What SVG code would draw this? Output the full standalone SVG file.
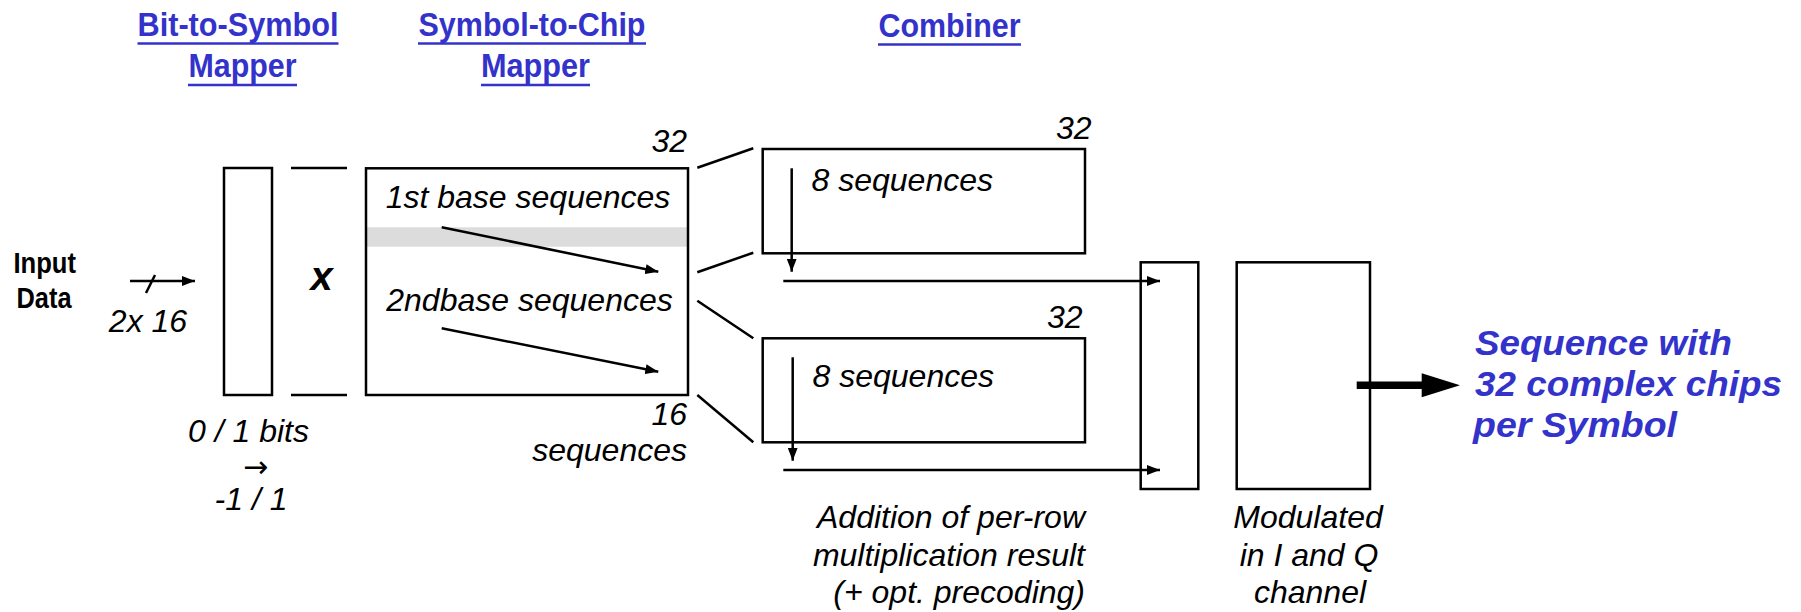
<svg xmlns="http://www.w3.org/2000/svg" width="1801" height="612" viewBox="0 0 1801 612">
<defs>
<style>
.box{fill:none;stroke:#000;stroke-width:2.5}
.ln{fill:none;stroke:#000;stroke-width:2.5}
.it{font-family:"Liberation Sans",Arial,sans-serif;font-style:italic;font-size:32px;fill:#000}
.hd{font-family:"Liberation Sans",Arial,sans-serif;font-weight:bold;font-size:34px;fill:#3333cc}
.ul{stroke:#3333cc;stroke-width:2.5}
.bd{font-family:"Liberation Sans",Arial,sans-serif;font-weight:bold;font-size:29px;fill:#000}
.out{font-family:"Liberation Sans",Arial,sans-serif;font-weight:bold;font-style:italic;font-size:35px;fill:#3333cc}
</style>
<marker id="ah" markerUnits="userSpaceOnUse" markerWidth="13" markerHeight="10" refX="13" refY="5" orient="auto">
<path d="M0,0 L13,5 L0,10 z" fill="#000"/>
</marker>
</defs>
<rect width="1801" height="612" fill="#fff"/>

<g id="headers">
<text class="hd" x="137.5" y="36" textLength="201" lengthAdjust="spacingAndGlyphs">Bit-to-Symbol</text>
<line class="ul" x1="137.5" y1="43.5" x2="338.5" y2="43.5"/>
<text class="hd" x="188.5" y="77" textLength="108" lengthAdjust="spacingAndGlyphs">Mapper</text>
<line class="ul" x1="188" y1="85" x2="297" y2="85"/>
<text class="hd" x="418.5" y="36" textLength="227" lengthAdjust="spacingAndGlyphs">Symbol-to-Chip</text>
<line class="ul" x1="418" y1="43.5" x2="646" y2="43.5"/>
<text class="hd" x="481" y="77" textLength="109" lengthAdjust="spacingAndGlyphs">Mapper</text>
<line class="ul" x1="481" y1="85" x2="590" y2="85"/>
<text class="hd" x="878.5" y="36.5" textLength="142" lengthAdjust="spacingAndGlyphs">Combiner</text>
<line class="ul" x1="878" y1="44.5" x2="1021" y2="44.5"/>
</g>

<g id="input">
<text class="bd" x="13.5" y="273" textLength="62.5" lengthAdjust="spacingAndGlyphs">Input</text>
<text class="bd" x="16.5" y="308" textLength="55" lengthAdjust="spacingAndGlyphs">Data</text>
<text class="it" x="148" y="332" text-anchor="middle">2x 16</text>
</g>

<g id="bit-mapper">
<rect class="box" x="224" y="168" width="48" height="227"/>
<text class="it" x="248.5" y="441.5" text-anchor="middle">0 / 1 bits</text>
<text x="255.5" y="477" text-anchor="middle" style="font-family:'DejaVu Sans',sans-serif;font-size:30px;fill:#000">→</text>
<text class="it" x="251" y="510" text-anchor="middle">-1 / 1</text>
</g>

<g id="multiply">
<line class="ln" x1="291" y1="168" x2="347" y2="168"/>
<line class="ln" x1="291" y1="395" x2="347" y2="395"/>
<text x="321.5" y="290" text-anchor="middle" style="font-family:'Liberation Sans',Arial,sans-serif;font-weight:bold;font-style:italic;font-size:40px;fill:#000">x</text>
</g>

<g id="chip-mapper">
<rect x="366" y="227.3" width="322" height="19.4" fill="#dcdcdc"/>
<rect class="box" x="366" y="168.3" width="322" height="226.7"/>
<text class="it" x="687" y="151.5" text-anchor="end">32</text>
<text class="it" x="528" y="208" text-anchor="middle">1st base sequences</text>
<text class="it" x="529.5" y="311" text-anchor="middle">2ndbase sequences</text>
<text class="it" x="687" y="425" text-anchor="end">16</text>
<text class="it" x="687" y="461" text-anchor="end">sequences</text>
</g>

<g id="combiner-top">
<rect class="box" x="762.7" y="149" width="322.3" height="104.3"/>
<text class="it" x="1091.5" y="139" text-anchor="end">32</text>
<text class="it" x="811.5" y="191">8 sequences</text>
</g>

<g id="combiner-bottom">
<rect class="box" x="762.7" y="338.3" width="322.3" height="104"/>
<text class="it" x="1082.5" y="328.3" text-anchor="end">32</text>
<text class="it" x="812.5" y="387.3">8 sequences</text>
</g>

<g id="adder">
<rect class="box" x="1140.7" y="262.3" width="57.6" height="226.7"/>
<text class="it" x="1085" y="528" text-anchor="end">Addition of per-row</text>
<text class="it" x="1085" y="566" text-anchor="end">multiplication result</text>
<text class="it" x="1085" y="603" text-anchor="end">(+ opt. precoding)</text>
</g>

<g id="modulator">
<rect class="box" x="1236.7" y="262.3" width="133.3" height="226.7"/>
<text class="it" x="1308" y="528" text-anchor="middle">Modulated</text>
<text class="it" x="1309" y="566" text-anchor="middle">in I and Q</text>
<text class="it" x="1310" y="603" text-anchor="middle">channel</text>
</g>

<g id="output">
<text class="out" x="1475" y="355" textLength="257" lengthAdjust="spacingAndGlyphs">Sequence with</text>
<text class="out" x="1475" y="396" textLength="307" lengthAdjust="spacingAndGlyphs">32 complex chips</text>
<text class="out" x="1473" y="437" textLength="204" lengthAdjust="spacingAndGlyphs">per Symbol</text>
</g>

<g id="connectors">
<line class="ln" x1="130" y1="281" x2="195" y2="281" marker-end="url(#ah)"/>
<line class="ln" x1="146" y1="293" x2="155" y2="275"/>
<line class="ln" x1="441.7" y1="227.3" x2="658.3" y2="271.7" marker-end="url(#ah)"/>
<line class="ln" x1="441.7" y1="328.3" x2="658.3" y2="371.7" marker-end="url(#ah)"/>
<line class="ln" x1="697.3" y1="167.7" x2="753.3" y2="148.3"/>
<line class="ln" x1="697.3" y1="272.3" x2="753.3" y2="252.7"/>
<line class="ln" x1="697.3" y1="300.7" x2="753.3" y2="338.3"/>
<line class="ln" x1="697.3" y1="395" x2="753.3" y2="442.3"/>
<line class="ln" x1="791.7" y1="168.3" x2="791.7" y2="271.7" marker-end="url(#ah)"/>
<line class="ln" x1="792.7" y1="357.3" x2="792.7" y2="460.7" marker-end="url(#ah)"/>
<line class="ln" x1="783.3" y1="281" x2="1160" y2="281" marker-end="url(#ah)"/>
<line class="ln" x1="783.3" y1="470" x2="1160" y2="470" marker-end="url(#ah)"/>
<line x1="1356.7" y1="385.3" x2="1423" y2="385.3" stroke="#000" stroke-width="7.5"/>
<path d="M1421.7,373.3 L1460,385.3 L1421.7,397.3 z" fill="#000"/>
</g>
</svg>
